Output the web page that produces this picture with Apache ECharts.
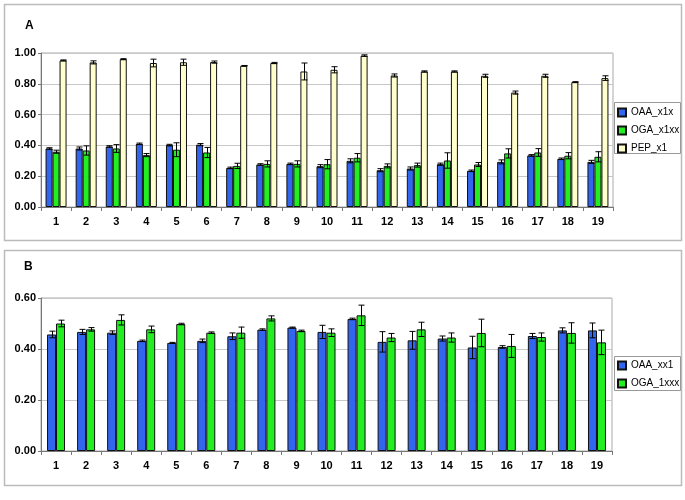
<!DOCTYPE html>
<html>
<head>
<meta charset="utf-8">
<script src="https://cdn.jsdelivr.net/npm/echarts@6/dist/echarts.min.js"></script>
<style>
  html, body { margin: 0; padding: 0; background: #fff; }
  #chart { width: 685px; height: 500px; }
</style>
</head>
<body>
<div id="chart"></div>
<script>
// categories
var cats = ['1','2','3','4','5','6','7','8','9','10','11','12','13','14','15','16','17','18','19'];

// panel A
var oaaA    = [0.380,0.380,0.393,0.410,0.402,0.405,0.254,0.276,0.280,0.265,0.300,0.239,0.250,0.278,0.235,0.293,0.335,0.313,0.293];
var oaaAErr = [0.005,0.010,0.005,0.005,0.005,0.007,0.005,0.005,0.005,0.010,0.013,0.010,0.010,0.007,0.005,0.013,0.005,0.005,0.010];
var ogaA    = [0.359,0.367,0.380,0.337,0.372,0.354,0.267,0.280,0.280,0.278,0.320,0.267,0.272,0.302,0.276,0.348,0.354,0.333,0.326];
var ogaAErr = [0.010,0.030,0.025,0.010,0.045,0.033,0.017,0.020,0.020,0.030,0.027,0.013,0.013,0.050,0.013,0.030,0.025,0.020,0.033];
var pepA    = [0.952,0.939,0.960,0.935,0.940,0.941,0.917,0.935,0.880,0.891,0.983,0.854,0.880,0.880,0.852,0.743,0.852,0.811,0.837];
var pepAErr = [0.003,0.010,0.003,0.025,0.020,0.007,0.002,0.004,0.055,0.020,0.005,0.010,0.004,0.004,0.010,0.010,0.010,0.003,0.015];

// panel B
var oaaB    = [0.457,0.467,0.464,0.432,0.424,0.432,0.450,0.476,0.484,0.467,0.518,0.428,0.434,0.441,0.406,0.408,0.451,0.473,0.473];
var oaaBErr = [0.013,0.010,0.007,0.003,0.002,0.007,0.013,0.003,0.002,0.026,0.003,0.040,0.035,0.010,0.044,0.005,0.010,0.010,0.029];
var ogaB    = [0.500,0.477,0.514,0.477,0.498,0.464,0.464,0.520,0.471,0.464,0.532,0.445,0.477,0.445,0.463,0.412,0.447,0.463,0.426];
var ogaBErr = [0.013,0.007,0.020,0.013,0.003,0.003,0.022,0.010,0.003,0.015,0.040,0.016,0.028,0.018,0.054,0.045,0.016,0.040,0.048];

var BLUE = '#3366ee', GREEN = '#22ee22', PALE = '#ffffcc';
var barA = 7, barB = 9;

function errRows(vals, errs) {
  return vals.map(function (v, i) { return [i, v, errs[i]]; });
}

// error bar drawn as custom series, shifted to the bar's slot
function errSeries(vals, errs, ax, offset) {
  return {
    type: 'custom',
    xAxisIndex: ax, yAxisIndex: ax,
    z: 10,
    silent: true,
    data: errRows(vals, errs),
    renderItem: function (params, api) {
      var i = api.value(0), v = api.value(1), e = api.value(2);
      var hi = api.coord([i, v + e]);
      var lo = api.coord([i, v - e]);
      var x = Math.round(hi[0] + offset) + 0.5;
      var cap = 3;
      var st = { stroke: '#000', lineWidth: 1 };
      return {
        type: 'group',
        children: [
          { type: 'line', shape: { x1: x, y1: hi[1], x2: x, y2: lo[1] }, style: st },
          { type: 'line', shape: { x1: x - cap, y1: hi[1], x2: x + cap, y2: hi[1] }, style: st },
          { type: 'line', shape: { x1: x - cap, y1: lo[1], x2: x + cap, y2: lo[1] }, style: st }
        ]
      };
    }
  };
}

function barSeries(name, vals, color, ax, w) {
  return {
    name: name, type: 'bar',
    xAxisIndex: ax, yAxisIndex: ax,
    data: vals, barWidth: w, barGap: '0%',
    itemStyle: { color: color, borderColor: '#111', borderWidth: 1 }
  };
}

var axisLbl = { color: '#000', fontFamily: 'Liberation Sans', fontWeight: 'bold', fontSize: 11 };

function xAx(gi) {
  return {
    type: 'category', gridIndex: gi, data: cats,
    axisLine: { lineStyle: { color: '#777' } },
    axisTick: { show: true, length: 4, lineStyle: { color: '#777' } },
    axisLabel: Object.assign({ margin: 9 }, axisLbl)
  };
}
function yAx(gi, max) {
  return {
    type: 'value', gridIndex: gi, min: 0, max: max, interval: 0.2,
    axisLine: { show: true, lineStyle: { color: '#777' } },
    axisTick: { show: true, length: 3, lineStyle: { color: '#777' } },
    splitLine: { lineStyle: { color: '#c8c8c8' } },
    axisLabel: Object.assign({ margin: 5, formatter: function (v) { return v.toFixed(2); } }, axisLbl)
  };
}

var legendText = { color: '#000', fontFamily: 'Liberation Sans', fontSize: 10, lineHeight: 13 };

var chart = echarts.init(document.getElementById('chart'));
chart.setOption({
  animation: false,
  backgroundColor: '#fff',
  graphic: [
    { type: 'rect', shape: { x: 4.5, y: 4.5, width: 677, height: 236 }, style: { fill: 'none', stroke: '#bbb', lineWidth: 1.5 }, z: -1 },
    { type: 'rect', shape: { x: 4.5, y: 250.5, width: 677, height: 235 }, style: { fill: 'none', stroke: '#bbb', lineWidth: 1.5 }, z: -1 },
    { type: 'rect', shape: { x: 614.5, y: 102.5, width: 66, height: 51 }, style: { fill: 'none', stroke: '#999', lineWidth: 1 }, z: -1 },
    { type: 'rect', shape: { x: 614.5, y: 356.5, width: 66, height: 34 }, style: { fill: 'none', stroke: '#999', lineWidth: 1 }, z: -1 },
    { type: 'text', left: 25, top: 20, style: { text: 'A', fill: '#000', font: 'bold 12px Liberation Sans' } },
    { type: 'text', left: 24, top: 261, style: { text: 'B', fill: '#000', font: 'bold 12px Liberation Sans' } }
  ],
  grid: [
    { left: 41, top: 53, width: 572, height: 154, show: true, borderColor: '#aaa', borderWidth: 1 },
    { left: 41, top: 298, width: 571, height: 153, show: true, borderColor: '#aaa', borderWidth: 1 }
  ],
  legend: [
    {
      data: ['OAA_x1x', 'OGA_x1xx', 'PEP_x1'],
      orient: 'vertical', left: 617, top: 106,
      itemWidth: 8, itemHeight: 8, itemGap: 5,
      padding: 0,
      icon: 'rect',
      textStyle: legendText
    },
    {
      data: ['OAA_xx1', 'OGA_1xxx'],
      orient: 'vertical', left: 617, top: 359,
      itemWidth: 8, itemHeight: 8, itemGap: 5,
      padding: 0,
      icon: 'rect',
      textStyle: legendText
    }
  ],
  xAxis: [xAx(0), xAx(1)],
  yAxis: [yAx(0, 1), yAx(1, 0.6)],
  series: [
    barSeries('OAA_x1x', oaaA, BLUE, 0, barA),
    barSeries('OGA_x1xx', ogaA, GREEN, 0, barA),
    barSeries('PEP_x1', pepA, PALE, 0, barA),
    errSeries(oaaA, oaaAErr, 0, -barA),
    errSeries(ogaA, ogaAErr, 0, 0),
    errSeries(pepA, pepAErr, 0, barA),
    barSeries('OAA_xx1', oaaB, BLUE, 1, barB),
    barSeries('OGA_1xxx', ogaB, GREEN, 1, barB),
    errSeries(oaaB, oaaBErr, 1, -barB / 2),
    errSeries(ogaB, ogaBErr, 1, barB / 2)
  ]
});
</script>
</body>
</html>
